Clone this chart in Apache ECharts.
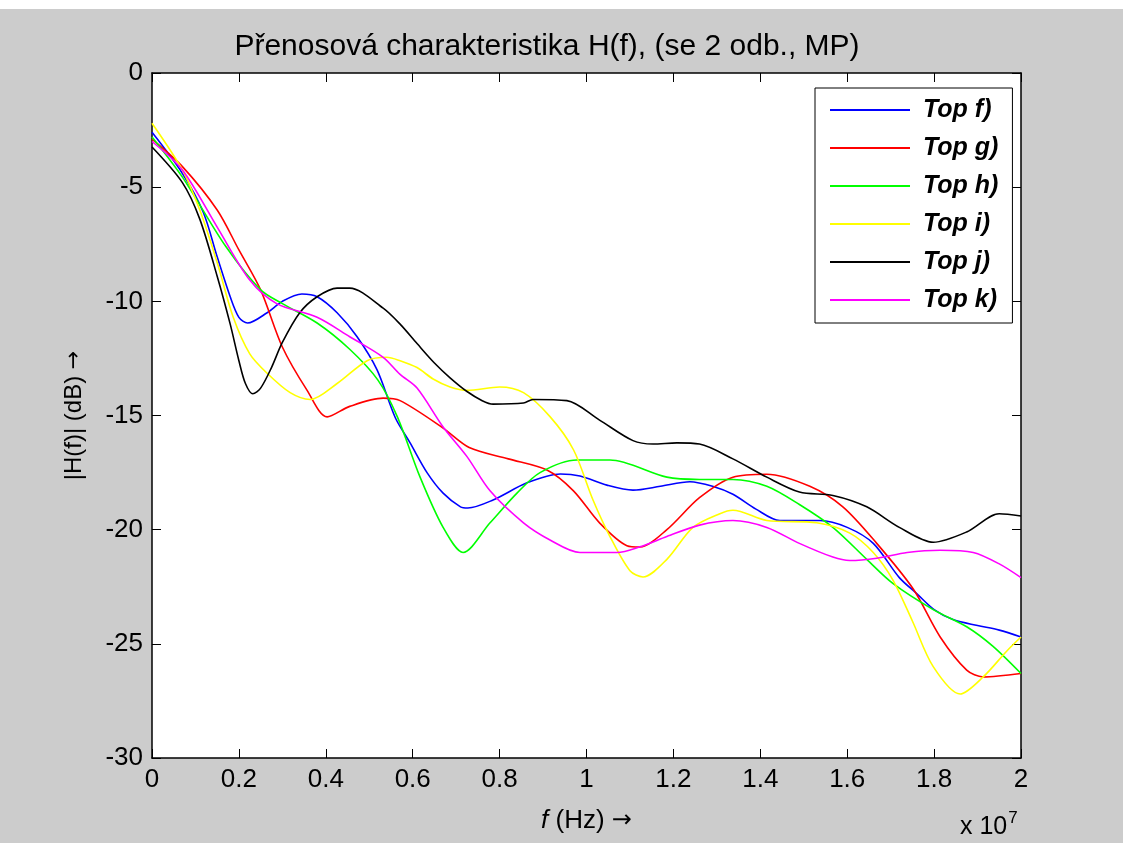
<!DOCTYPE html>
<html>
<head>
<meta charset="utf-8">
<script src="https://cdn.jsdelivr.net/npm/echarts@6/dist/echarts.min.js"></script>
<style>
  html, body { margin: 0; padding: 0; background: #fff; }
  #chart { width: 1123px; height: 843px; }
</style>
</head>
<body>
<div id="chart"></div>
<script>
// frekvence v jednotkach 1e7 Hz, hodnoty v dB
var names = ['Top f)', 'Top g)', 'Top h)', 'Top i)', 'Top j)', 'Top k)'];
var colors = ['#0000ff', '#ff0000', '#00ff00', '#ffff00', '#000000', '#ff00ff'];

var topF = [[0,-2.6],[0.07,-4.4],[0.118,-6.1],[0.15,-8.05],[0.18,-9.8],[0.2,-10.7],[0.22,-10.95],[0.265,-10.5],[0.3,-10.0],[0.345,-9.68],[0.38,-9.8],[0.426,-10.5],[0.472,-11.55],[0.518,-13.0],[0.56,-15.1],[0.594,-16.2],[0.633,-17.5],[0.67,-18.4],[0.71,-19.0],[0.727,-19.05],[0.785,-18.7],[0.863,-17.95],[0.94,-17.56],[0.985,-17.65],[1.047,-18.05],[1.107,-18.27],[1.17,-18.1],[1.238,-17.9],[1.29,-18.1],[1.337,-18.45],[1.39,-19.1],[1.445,-19.6],[1.537,-19.6],[1.6,-19.9],[1.66,-20.6],[1.72,-22.1],[1.76,-22.8],[1.8,-23.5],[1.845,-23.95],[1.9,-24.2],[1.95,-24.4],[2.0,-24.7]];
var topG = [[0,-2.9],[0.07,-4.1],[0.15,-6.0],[0.2,-7.75],[0.25,-9.5],[0.3,-12.0],[0.357,-13.9],[0.403,-15.06],[0.455,-14.6],[0.532,-14.24],[0.571,-14.35],[0.67,-15.55],[0.73,-16.4],[0.82,-16.9],[0.91,-17.4],[0.97,-18.3],[1.03,-19.7],[1.093,-20.7],[1.123,-20.76],[1.185,-20.0],[1.26,-18.6],[1.337,-17.7],[1.415,-17.57],[1.514,-18.1],[1.59,-19.0],[1.668,-20.6],[1.752,-22.6],[1.814,-24.7],[1.875,-26.15],[1.913,-26.45],[2.0,-26.3]];
var topH = [[0,-2.8],[0.07,-4.56],[0.17,-7.6],[0.25,-9.5],[0.3,-10.1],[0.38,-10.95],[0.455,-12.1],[0.52,-13.45],[0.565,-15.07],[0.617,-17.7],[0.67,-19.9],[0.716,-21.0],[0.778,-19.7],[0.84,-18.4],[0.893,-17.5],[0.978,-16.95],[1.054,-16.95],[1.185,-17.7],[1.26,-17.8],[1.337,-17.8],[1.415,-18.1],[1.49,-18.9],[1.567,-19.9],[1.645,-21.3],[1.705,-22.35],[1.798,-23.5],[1.875,-24.25],[1.935,-25.1],[2.0,-26.3]];
var topI = [[0,-2.2],[0.07,-4.25],[0.11,-6.0],[0.15,-8.3],[0.187,-10.7],[0.225,-12.3],[0.265,-13.15],[0.318,-14.0],[0.364,-14.3],[0.426,-13.6],[0.495,-12.6],[0.54,-12.45],[0.571,-12.6],[0.61,-12.9],[0.647,-13.4],[0.686,-13.75],[0.725,-13.9],[0.8,-13.75],[0.855,-14.0],[0.916,-15.05],[0.97,-16.5],[1.015,-18.7],[1.054,-20.3],[1.1,-21.8],[1.13,-22.07],[1.185,-21.3],[1.245,-19.9],[1.307,-19.3],[1.337,-19.15],[1.415,-19.6],[1.53,-19.7],[1.606,-20.15],[1.66,-21.0],[1.705,-22.2],[1.75,-24.0],[1.798,-26.0],[1.86,-27.2],[1.913,-26.45],[1.968,-25.3],[2.0,-24.7]];
var topJ = [[0,-3.24],[0.07,-4.8],[0.11,-6.4],[0.15,-8.9],[0.18,-11.0],[0.2,-12.6],[0.215,-13.6],[0.232,-14.05],[0.25,-13.8],[0.275,-12.9],[0.3,-11.8],[0.34,-10.5],[0.38,-9.8],[0.426,-9.42],[0.455,-9.42],[0.532,-10.3],[0.571,-11.0],[0.61,-11.85],[0.65,-12.7],[0.686,-13.35],[0.725,-13.95],[0.76,-14.35],[0.785,-14.5],[0.855,-14.45],[0.877,-14.3],[0.955,-14.35],[1.03,-15.2],[1.107,-16.1],[1.153,-16.25],[1.208,-16.2],[1.26,-16.25],[1.337,-16.9],[1.415,-17.7],[1.49,-18.35],[1.567,-18.5],[1.645,-19.0],[1.72,-19.9],[1.798,-20.55],[1.875,-20.1],[1.95,-19.3],[2.0,-19.4]];
var topK = [[0,-3.0],[0.07,-4.25],[0.15,-6.75],[0.225,-9.07],[0.287,-10.1],[0.38,-10.7],[0.455,-11.55],[0.532,-12.45],[0.571,-13.2],[0.61,-13.8],[0.67,-15.5],[0.725,-16.8],[0.778,-18.3],[0.855,-19.7],[0.916,-20.45],[0.985,-21.0],[1.07,-21.0],[1.123,-20.75],[1.185,-20.3],[1.26,-19.8],[1.337,-19.6],[1.415,-19.9],[1.49,-20.6],[1.567,-21.2],[1.606,-21.35],[1.668,-21.25],[1.738,-21.0],[1.814,-20.9],[1.89,-21.0],[1.95,-21.5],[2.0,-22.1]];
var allData = [topF, topG, topH, topI, topJ, topK];

var font = '"Liberation Sans", Arial, sans-serif';

var series = [];
for (var i = 0; i < names.length; i++) {
	series.push({
		name: names[i],
		type: 'line',
		data: allData[i],
		showSymbol: false,
		smooth: 0.3,
		lineStyle: { color: colors[i], width: 1.6 },
		itemStyle: { color: colors[i] }
	});
}

var tickStyle = { show: true, inside: true, length: 9, lineStyle: { color: '#000' } };
var lineStyle = { show: true, onZero: false, lineStyle: { color: '#000', width: 1.5 } };

var myChart = echarts.init(document.getElementById('chart'));
var option = {
	animation: false,
	backgroundColor: '#cccccc',
	title: {
		text: 'Přenosová charakteristika H(f), (se 2 odb., MP)',
		left: 542,
		top: 27,
		textAlign: 'center',
		textStyle: { fontFamily: font, fontSize: 30, fontWeight: 'normal', color: '#000' }
	},
	legend: {
		orient: 'vertical',
		left: 815,
		top: 88,
		icon: 'rect',
		itemWidth: 80,
		itemHeight: 2,
		itemGap: 12,
		padding: [9, 14, 10, 15],
		borderColor: '#000',
		borderWidth: 1,
		backgroundColor: '#fff',
		textStyle: {
			fontFamily: font,
			fontSize: 25, fontWeight: 'bold', fontStyle: 'italic',
			color: '#000', lineHeight: 26, padding: [0, 0, 0, 8]
		},
		data: names
	},
	grid: {
		left: 152, top: 73, width: 869, height: 685,
		show: true, backgroundColor: '#fff', borderWidth: 0
	},
	xAxis: [
		{
			type: 'value', min: 0, max: 2, interval: 0.2,
			name: '{i|f} (Hz) {a|→}',
			nameLocation: 'middle',
			nameGap: 50,
			nameTextStyle: {
				fontFamily: font, fontSize: 26, color: '#000',
				rich: {
					i: { fontFamily: font, fontSize: 26, fontStyle: 'italic', color: '#000' },
					a: { fontFamily: '"DejaVu Sans"', fontSize: 24, color: '#000' }
				}
			},
			axisLine: lineStyle,
			axisTick: tickStyle,
			axisLabel: { fontFamily: font, fontSize: 26, color: '#000', margin: 9 },
			splitLine: { show: false }
		},
		{
			type: 'value', min: 0, max: 2, interval: 0.2, position: 'top',
			axisLine: lineStyle,
			axisTick: tickStyle,
			axisLabel: { show: false },
			splitLine: { show: false }
		}
	],
	yAxis: [
		{
			type: 'value', min: -30, max: 0, interval: 5,
			name: '|H(f)| (dB) {a|→}',
			nameLocation: 'middle',
			nameRotate: 90,
			nameGap: 66,
			nameTextStyle: {
				fontFamily: font, fontSize: 24, color: '#000',
				rich: { a: { fontFamily: '"DejaVu Sans"', fontSize: 22, color: '#000' } }
			},
			axisLine: lineStyle,
			axisTick: tickStyle,
			axisLabel: { fontFamily: font, fontSize: 26, color: '#000', margin: 9 },
			splitLine: { show: false }
		},
		{
			type: 'value', min: -30, max: 0, interval: 5, position: 'right',
			axisLine: lineStyle,
			axisTick: tickStyle,
			axisLabel: { show: false },
			splitLine: { show: false }
		}
	],
	graphic: [
		{ type: 'rect', left: 0, top: 0, shape: { width: 1123, height: 9 }, style: { fill: '#fff' }, silent: true },
		{
			type: 'text', left: 960, top: 810,
			style: {
				text: '{b|x 10}{s|7}',
				rich: {
					b: { fontFamily: font, fontSize: 25, color: '#000', verticalAlign: 'bottom', lineHeight: 30 },
					s: { fontFamily: font, fontSize: 17, color: '#000', verticalAlign: 'top', lineHeight: 30, padding: [0, 0, 14, 1] }
				}
			}
		}
	],
	series: series
};
myChart.setOption(option);
</script>
</body>
</html>
